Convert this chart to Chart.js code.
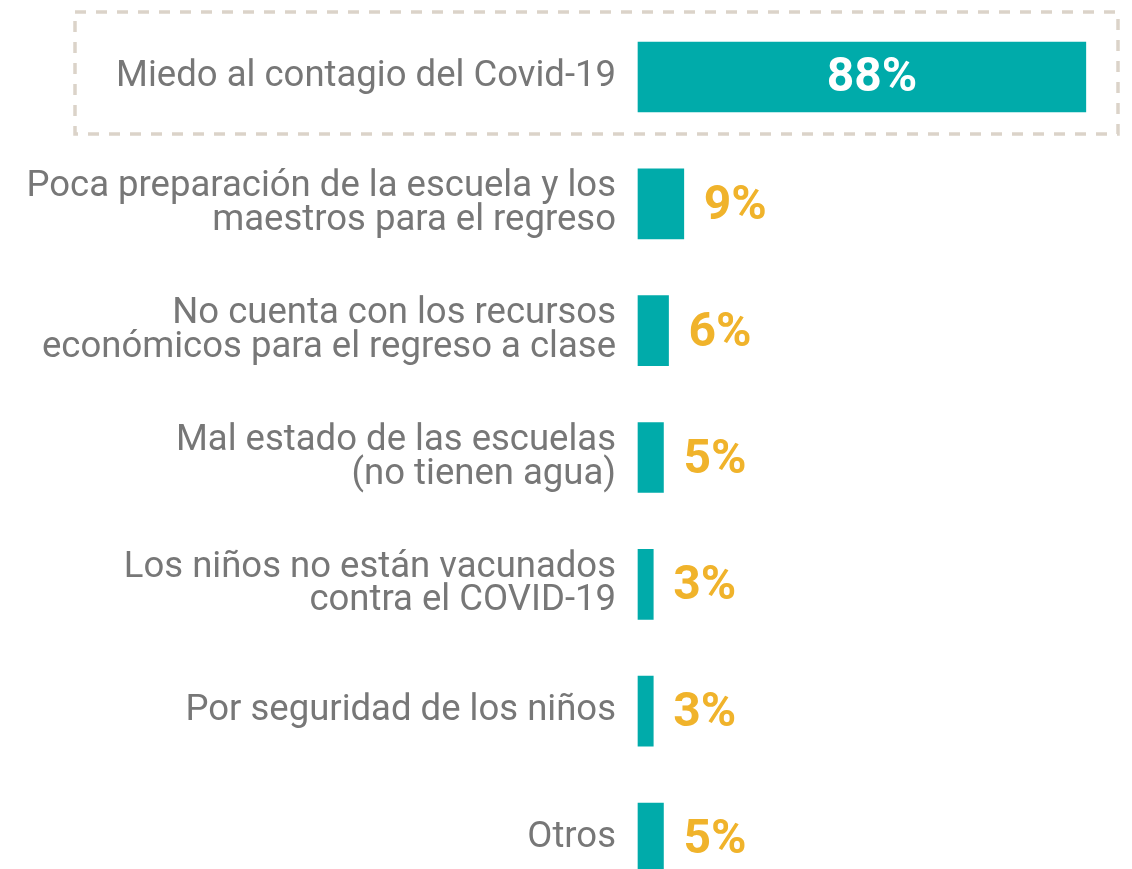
<!DOCTYPE html>
<html lang="es">
<head>
<meta charset="UTF-8">
<title>Motivos para no regresar a clases</title>
<script src="https://cdn.jsdelivr.net/npm/chart.js@4.4.1/dist/chart.umd.min.js"></script>
<style>
  html, body { margin: 0; padding: 0; background: #fff; }
  #wrap { position: relative; width: 1132px; height: 869px; }
</style>
</head>
<body>
<div id="wrap"><canvas id="motivos"></canvas></div>
<script>
// razones y porcentajes
var categories = [
  ["Miedo al contagio del Covid-19"],
  ["Poca preparación de la escuela y los", "maestros para el regreso"],
  ["No cuenta con los recursos", "económicos para el regreso a clase"],
  ["Mal estado de las escuelas", "(no tienen agua)"],
  ["Los niños no están vacunados", "contra el COVID-19"],
  ["Por seguridad de los niños"],
  ["Otros"]
];
var values = [88, 9, 6, 5, 3, 3, 5];
var valueLabels = ["88%", "9%", "6%", "5%", "3%", "3%", "5%"];

var teal = "#00abaa";
var amber = "#f0b32b";
var gray = "#777777";

// recuadro punteado alrededor de la primera barra
var dashedBox = {
  id: "dashedBox",
  beforeDatasetsDraw: function (chart) {
    var bar = chart.getDatasetMeta(0).data[0];
    var ctx = chart.ctx;
    var top = bar.y - bar.height / 2 - 30;
    var bottom = bar.y + bar.height / 2 + 22;
    ctx.save();
    ctx.strokeStyle = "#dbd3c9";
    ctx.lineWidth = 3.5;
    ctx.setLineDash([11, 10]);
    ctx.strokeRect(75, top, chart.width - 14 - 75, bottom - top);
    ctx.restore();
  }
};

// etiquetas de porcentaje
var barValues = {
  id: "barValues",
  afterDatasetsDraw: function (chart) {
    var ctx = chart.ctx;
    ctx.save();
    ctx.font = "bold 48px Roboto";
    ctx.textBaseline = "middle";
    chart.getDatasetMeta(0).data.forEach(function (bar, i) {
      if (i === 0) {
        ctx.fillStyle = "#fff";
        ctx.textAlign = "center";
        ctx.fillText(valueLabels[i], (bar.base + bar.x) / 2 + 10, bar.y + 2);
      } else {
        ctx.fillStyle = amber;
        ctx.textAlign = "left";
        ctx.fillText(valueLabels[i], bar.x + 20, bar.y + 3);
      }
    });
    ctx.restore();
  }
};

Chart.defaults.font.family = "Roboto";

new Chart(document.getElementById("motivos"), {
  type: "bar",
  data: {
    labels: categories,
    datasets: [{
      data: values,
      backgroundColor: teal,
      barThickness: 70,
      clip: false
    }]
  },
  options: {
    indexAxis: "y",
    responsive: true,
    maintainAspectRatio: false,
    animation: false,
    layout: { padding: { top: 77, bottom: 19, left: 0, right: 36 } },
    plugins: { legend: { display: false }, tooltip: { enabled: false } },
    scales: {
      x: { display: false, min: 0, max: 90 },
      y: {
        offset: false,
        grid: { display: false },
        border: { display: false },
        afterFit: function (scale) { scale.width = 638; },
        ticks: {
          padding: 14,
          color: gray,
          font: { size: 36.5, lineHeight: 0.93 }
        }
      }
    }
  },
  plugins: [dashedBox, barValues]
});
</script>
</body>
</html>
